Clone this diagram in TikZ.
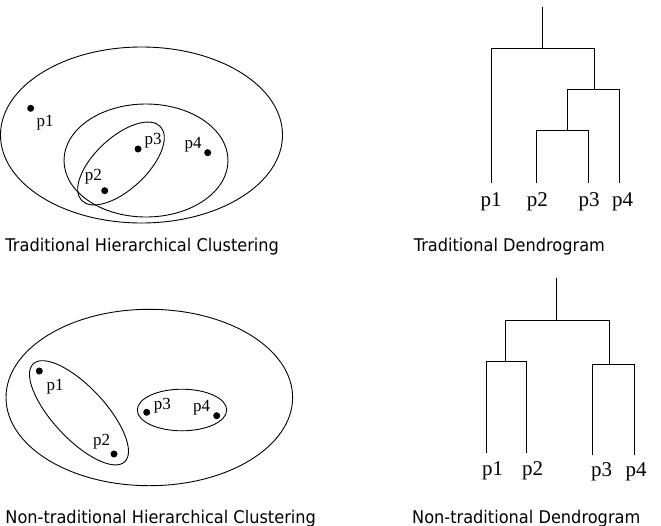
\documentclass[tikz,border=0pt]{standalone}
\usepackage{fontspec}
\setmainfont{Liberation Serif}
\newfontfamily\capfont[FakeStretch=0.925]{DejaVu Sans}
\begin{document}
\begin{tikzpicture}[x=1pt,y=-1pt,line width=0.9pt,
  ptlab/.style={anchor=base,inner sep=0pt,font=\fontsize{17}{17}\selectfont},
  dlab/.style={anchor=base,inner sep=0pt,font=\fontsize{21}{21}\selectfont},
  captext/.style={anchor=base west,inner sep=0pt,font=\capfont\fontsize{17.5}{18}\selectfont},
  dot/.style={circle,fill=black,inner sep=0pt,minimum size=7pt}]
\useasboundingbox (0,0) rectangle (661,525);
% ---------- top left ----------
\draw (141.5,135) ellipse [x radius=141,y radius=88];
\draw (146,160.5) ellipse [x radius=82,y radius=56.5];
\draw[rotate around={43:(121,163.5)}] (121,163.5) ellipse [x radius=54,y radius=26];
\node[dot] (a1) at (30.7,108.3) {};
\node[dot] (a2) at (104.7,190.7) {};
\node[dot] (a3) at (138,149) {};
\node[dot] (a4) at (207.7,152.7) {};
\node[ptlab] (la1) at (45,126) {p1};
\node[ptlab] (la2) at (93.3,180.7) {p2};
\node[ptlab] (la3) at (153,144.3) {p3};
\node[ptlab] (la4) at (193,148.3) {p4};
\node[captext] (ca) at (5,251.7) {Traditional Hierarchical Clustering};
% ---------- top right dendrogram ----------
\coordinate (r0) at (542.7,7.3);
\coordinate (r1) at (542.7,48.3);
\coordinate (b1) at (491,182.7);
\coordinate (b2) at (536.7,182.7);
\coordinate (b3) at (588.7,182.7);
\coordinate (b4) at (619,182.7);
\draw (r0) -- (r1);
\draw (b1) |- (594,48.3) -- (594,89.3);
\draw (b4) |- (567.7,89.3) -- (567.7,130);
\draw (b2) |- (b3 |- 0,130) -- (b3);
\node[dlab] (lb1) at (491,206.7) {p1};
\node[dlab] (lb2) at (537.3,206.7) {p2};
\node[dlab] (lb3) at (589,206.7) {p3};
\node[dlab] (lb4) at (622.7,206.7) {p4};
\node[captext] (cb) at (413.3,251.7) {Traditional Dendrogram};
% ---------- bottom left ----------
\draw (149.3,397.5) ellipse [x radius=143.3,y radius=88.2];
\draw[rotate around={-47:(79,412.8)}] (79,412.8) ellipse [x radius=67,y radius=26];
\draw (182,410) ellipse [x radius=44.7,y radius=20.8];
\node[dot] (c1) at (39.3,371) {};
\node[dot] (c2) at (114,454) {};
\node[dot] (c3) at (146.7,412.3) {};
\node[dot] (c4) at (216.7,415.7) {};
\node[ptlab] (lc1) at (55,390) {p1};
\node[ptlab] (lc2) at (101.7,445.7) {p2};
\node[ptlab] (lc3) at (162.3,409.3) {p3};
\node[ptlab] (lc4) at (201.7,411.7) {p4};
\node[captext] (cc) at (5,523.5) {Non-traditional Hierarchical Clustering};
% ---------- bottom right dendrogram ----------
\coordinate (s0) at (556.7,278.3);
\coordinate (s1) at (556.7,320);
\coordinate (d1) at (486,452.7);
\coordinate (d2) at (526.7,452.7);
\coordinate (d3) at (592.7,455);
\coordinate (d4) at (634.3,455);
\draw (s0) -- (s1);
\draw (505.3,361.7) |- (609,320) -- (609,364.3);
\draw (d1) |- (d2 |- 0,361.7) -- (d2);
\draw (d3) |- (d4 |- 0,364.3) -- (d4);
\node[dlab] (ld1) at (492.7,475) {p1};
\node[dlab] (ld2) at (532.7,475) {p2};
\node[dlab] (ld3) at (601.7,476.7) {p3};
\node[dlab] (ld4) at (636,476.7) {p4};
\node[captext] (cd) at (411.7,523.5) {Non-traditional Dendrogram};
\end{tikzpicture}
\end{document}
